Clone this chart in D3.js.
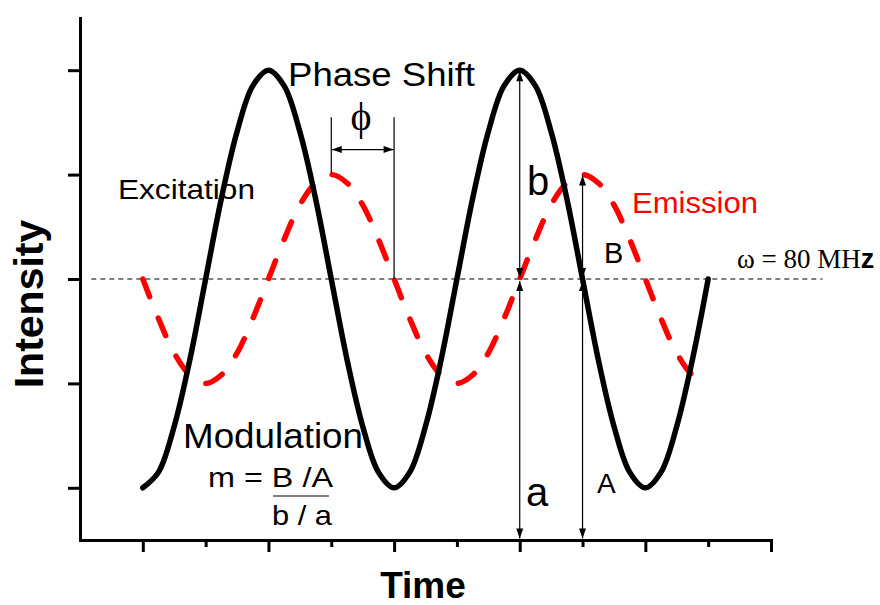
<!DOCTYPE html>
<html>
<head>
<meta charset="utf-8">
<script src="https://cdn.jsdelivr.net/npm/d3@7"></script>
<style>
  html, body { margin: 0; padding: 0; background: #fff; }
  svg { display: block; }
  .sans { font-family: "Liberation Sans", Arial, sans-serif; }
  .serif { font-family: "Liberation Serif", "Times New Roman", serif; }
</style>
</head>
<body>
<svg id="chart" width="880" height="605"></svg>
<script>
// Time samples (in units of half an oscillation period)
const time = [0, 0.125, 0.25, 0.375, 0.5, 0.625, 0.75, 0.875,
              1, 1.125, 1.25, 1.375, 1.5, 1.625, 1.75, 1.875,
              2, 2.125, 2.25, 2.375, 2.5, 2.625, 2.75, 2.875,
              3, 3.125, 3.25, 3.375, 3.5, 3.625, 3.75, 3.875,
              4, 4.125, 4.25, 4.375, 4.5];
// Excitation light intensity (black solid)
const excitation = [0, 0.15, 0.59, 1.23, 2, 2.77, 3.41, 3.85,
                    4, 3.85, 3.41, 2.77, 2, 1.23, 0.59, 0.15,
                    0, 0.15, 0.59, 1.23, 2, 2.77, 3.41, 3.85,
                    4, 3.85, 3.41, 2.77, 2, 1.23, 0.59, 0.15,
                    0, 0.15, 0.59, 1.23, 2];
// Emission intensity (red dashed): delayed and demodulated
const emission = [2, 1.62, 1.29, 1.08, 1, 1.08, 1.29, 1.62,
                  2, 2.38, 2.71, 2.92, 3, 2.92, 2.71, 2.38,
                  2, 1.62, 1.29, 1.08, 1, 1.08, 1.29, 1.62,
                  2, 2.38, 2.71, 2.92, 3, 2.92, 2.71, 2.38,
                  2, 1.62, 1.29, 1.08, 1];

const xMajorTicks = [0, 1, 2, 3, 4, 5];
const xMinorTicks = [0.5, 1.5, 2.5, 3.5, 4.5];
const yTicks = [0, 1, 2, 3, 4];

// Annotation anchors, in data units
const meanLevel = 2;        // DC level of both signals
const excitationPeak = 4;
const emissionPeak = 3;
const peakTimeExc = 3;      // excitation peak used for b / a
const peakTimeEm = 3.5;     // emission peak used for B / A
const phaseStart = 1.5;     // emission peak
const phaseEnd = 2;         // excitation crossing

const svg = d3.select("#chart");
svg.append("rect").attr("width", 880).attr("height", 605).attr("fill", "#fff");

const x = d3.scaleLinear().domain([-0.5, 5]).range([80, 771]);
const y = d3.scaleLinear().domain([-0.5, 4.5]).range([540, 18]);

// Axes (no tick labels)
svg.append("g").attr("transform", `translate(0,${y(-0.5)})`)
  .call(d3.axisBottom(x).tickValues(xMajorTicks).tickSize(12).tickSizeOuter(0).tickFormat(""));
const gxMinor = svg.append("g").attr("transform", `translate(0,${y(-0.5)})`)
  .call(d3.axisBottom(x).tickValues(xMinorTicks).tickSize(7).tickSizeOuter(0).tickFormat(""));
gxMinor.select(".domain").remove();
svg.append("g").attr("transform", `translate(${x(-0.5)},0)`)
  .call(d3.axisLeft(y).tickValues(yTicks).tickSize(12).tickSizeOuter(0).tickFormat(""));
svg.selectAll(".domain").attr("stroke", "#000").attr("stroke-width", 3).attr("stroke-linecap", "square");
svg.selectAll(".tick line").attr("stroke", "#000").attr("stroke-width", 3);

// Mean level reference line
svg.append("line")
  .attr("x1", x(-0.41)).attr("x2", x(5.41))
  .attr("y1", y(meanLevel)).attr("y2", y(meanLevel))
  .attr("stroke", "#555").attr("stroke-width", 1.3).attr("stroke-dasharray", "5,4");

const line = d3.line().curve(d3.curveCatmullRom.alpha(0.5))
  .x(d => x(d[0])).y(d => y(d[1]));

// Emission curve
svg.append("path")
  .attr("d", line(time.map((t, i) => [t, emission[i]])))
  .attr("fill", "none").attr("stroke", "#ff0000").attr("stroke-width", 5.5)
  .attr("stroke-dasharray", "19,23").attr("stroke-linecap", "round");

// Excitation curve
svg.append("path")
  .attr("d", line(time.map((t, i) => [t, excitation[i]])))
  .attr("fill", "none").attr("stroke", "#000").attr("stroke-width", 5.5)
  .attr("stroke-linejoin", "round").attr("stroke-linecap", "round");

// Arrow helper: thin shaft with filled triangular heads
function head(px, py, dx, dy) {
  const L = 10, W = 3.5;
  const bx = px - dx * L, by = py - dy * L;
  const nx = -dy, ny = dx;
  svg.append("path")
    .attr("d", `M${px},${py}L${bx + nx * W},${by + ny * W}L${bx - nx * W},${by - ny * W}Z`)
    .attr("fill", "#000");
}
function arrow(x1, y1, x2, y2) {
  svg.append("line").attr("x1", x1).attr("y1", y1).attr("x2", x2).attr("y2", y2)
    .attr("stroke", "#000").attr("stroke-width", 1.2);
  const len = Math.hypot(x2 - x1, y2 - y1);
  const dx = (x2 - x1) / len, dy = (y2 - y1) / len;
  head(x2, y2, dx, dy);
  head(x1, y1, -dx, -dy);
}

// b and a (excitation amplitude / mean)
arrow(x(peakTimeExc), y(meanLevel) - 1, x(peakTimeExc), y(excitationPeak) + 1);
arrow(x(peakTimeExc), y(-0.5) - 1.5, x(peakTimeExc), y(meanLevel) + 2);
// B and A (emission amplitude / mean)
arrow(x(peakTimeEm), y(meanLevel) - 1, x(peakTimeEm), y(emissionPeak) + 1);
arrow(x(peakTimeEm), y(-0.5) - 1.5, x(peakTimeEm), y(meanLevel) + 2);

// Phase shift markers
svg.append("line").attr("x1", x(phaseStart)).attr("x2", x(phaseStart))
  .attr("y1", y(3.55)).attr("y2", y(emissionPeak) - 2)
  .attr("stroke", "#000").attr("stroke-width", 1.2);
svg.append("line").attr("x1", x(phaseEnd)).attr("x2", x(phaseEnd))
  .attr("y1", y(3.55)).attr("y2", y(meanLevel))
  .attr("stroke", "#000").attr("stroke-width", 1.2);
arrow(x(phaseStart) + 0.5, y(3.24), x(phaseEnd) - 0.5, y(3.24));

// Labels
function label(text, px, py, size, opts = {}) {
  const t = svg.append("text")
    .attr("class", opts.serif ? "serif" : "sans")
    .attr("x", px).attr("y", py)
    .attr("font-size", size)
    .attr("fill", opts.fill || "#000")
    .attr("font-weight", opts.bold ? "bold" : "normal")
    .attr("text-anchor", opts.anchor || "start")
    .text(text);
  if (opts.len) t.attr("textLength", opts.len).attr("lengthAdjust", "spacingAndGlyphs");
  return t;
}

label("Phase Shift", 288, 86, 33.5, { len: 187 });
label("\u03D5", 361, 130, 40, { serif: true, anchor: "middle" });
label("Excitation", 118, 199, 28, { len: 137 });
label("Emission", 632, 213, 30, { len: 126, fill: "#ff0000" });
label("b", 527, 195, 40);
label("B", 604, 263, 29);
label("a", 526, 506, 40);
label("A", 597, 493, 28);

const omega = label("\u03C9 = 80 MH", 737, 268, 27, { serif: true });
omega.append("tspan").attr("class", "sans").attr("font-weight", "bold").text("z");

label("Modulation", 183, 448, 35, { len: 180 });
label("m = B /A", 208, 487, 27, { len: 125 });
svg.append("line").attr("x1", 273).attr("x2", 329).attr("y1", 496).attr("y2", 496)
  .attr("stroke", "#555").attr("stroke-width", 1.5);
label("b / a", 272, 525, 28, { len: 60 });

// Axis titles
svg.append("text").attr("class", "sans")
  .attr("transform", "translate(43,304) rotate(-90)")
  .attr("text-anchor", "middle").attr("font-size", 41).attr("font-weight", "bold")
  .text("Intensity");
label("Time", 423, 598, 37, { bold: true, anchor: "middle" });
</script>
</body>
</html>
